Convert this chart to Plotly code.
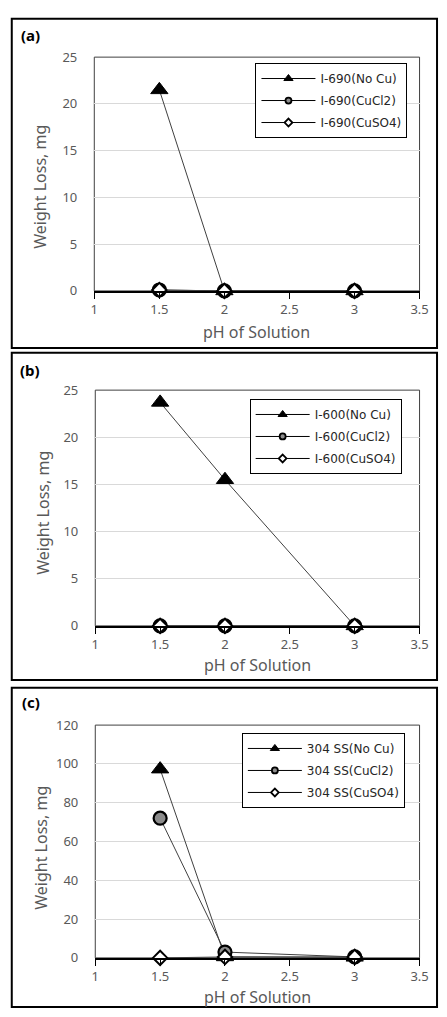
import plotly.graph_objects as go

# ---------------- data ----------------
ph = [1.5, 2, 3]

a_names = ["I-690(No Cu)", "I-690(CuCl2)", "I-690(CuSO4)"]
a_nocu = [21.5, 0.0, 0.0]
a_cucl2 = [0.1, 0.0, 0.0]
a_cuso4 = [0.1, 0.0, 0.0]

b_names = ["I-600(No Cu)", "I-600(CuCl2)", "I-600(CuSO4)"]
b_nocu = [23.7, 15.5, 0.0]
b_cucl2 = [0.0, 0.0, 0.0]
b_cuso4 = [0.0, 0.0, 0.0]

c_names = ["304 SS(No Cu)", "304 SS(CuCl2)", "304 SS(CuSO4)"]
c_nocu = [97.3, 0.5, 0.3]
c_cucl2 = [72.0, 3.0, 0.5]
c_cuso4 = [0.0, 0.5, 0.5]

panel_labels = ["(a)", "(b)", "(c)"]
x_ticks = [1, 1.5, 2, 2.5, 3, 3.5]
y_ranges = [[0, 25], [0, 25], [0, 120]]
y_dticks = [5, 5, 20]

# ---------------- layout geometry (pixels) ----------------
W, H = 447, 1017
plots = [  # x0, x1, top, bottom
    (93, 428, 49, 287),
    (94, 428, 388, 628),
    (94, 428, 729, 966),
]
boxes = [  # left, right, top, bottom
    (8, 446, 10, 345),
    (8, 446, 350, 683),
    (8, 446, 691, 1016),
]
legend_pos = [(259, 55), (253, 397), (245, 737)]
ytitle_pos = [(37, 181), (40, 513), (38, 854)]
xtitle_y = [329, 668, 1006]
label_pos = [(27, 26), (27, 368), (28, 705)]


def px(x):
    return x / W


def py(y):
    return 1 - y / H


LINE_COL = "#404040"
GRAY = "#595959"
FONT = "Noto Sans"
LEG_FONT = "DejaVu Sans"

styles = [
    dict(symbol="triangle-up", color="black", lc="black", size=15, lsize=8, lw=1),
    dict(symbol="circle", color="#8c8c8c", lc="black", size=13, lsize=6, lw=2.2),
    dict(symbol="diamond", color="white", lc="black", size=11, lsize=6, lw=2),
]

fig = go.Figure()
datasets = [
    (a_names, [a_nocu, a_cucl2, a_cuso4]),
    (b_names, [b_nocu, b_cucl2, b_cuso4]),
    (c_names, [c_nocu, c_cucl2, c_cuso4]),
]

layout_upd = {}
shapes = []
annotations = []

for i, (names, series) in enumerate(datasets):
    n = "" if i == 0 else str(i + 1)
    xa, ya = "x" + n, "y" + n
    leg = "legend" + n
    for j, (name, vals) in enumerate(zip(names, series)):
        s = styles[j]
        fig.add_trace(go.Scatter(
            x=ph, y=vals, xaxis=xa, yaxis=ya, mode="lines+markers",
            line=dict(color=LINE_COL, width=1),
            marker=dict(symbol=s["symbol"], size=s["size"], color=s["color"],
                        line=dict(color=s["lc"], width=s["lw"])),
            showlegend=False, cliponaxis=False, name=name,
        ))
    # legend-only traces (smaller legend markers)
    for j, name in enumerate(names):
        s = styles[j]
        fig.add_trace(go.Scatter(
            x=[None], y=[None], xaxis=xa, yaxis=ya, mode="lines+markers",
            line=dict(color="black", width=1),
            marker=dict(symbol=s["symbol"], size=s["lsize"], color=s["color"],
                        line=dict(color=s["lc"], width=min(s["lw"], 1.8))),
            name=name, legend=leg, legendgroup=f"g{i}{j}", showlegend=True,
        ))

    x0, x1, top, bot = plots[i]
    layout_upd["xaxis" + n] = dict(
        domain=[px(x0), px(x1)], anchor=ya, range=[1, 3.5], tickvals=x_ticks,
        ticktext=[str(t) for t in x_ticks], showgrid=False, zeroline=False,
        showline=True, linecolor="black", linewidth=1.5,
        ticks="outside", ticklen=6, tickcolor="black", tickwidth=1,
        tickfont=dict(family=FONT, size=13, color=GRAY),
    )
    layout_upd["yaxis" + n] = dict(
        domain=[py(bot), py(top)], anchor=xa, range=y_ranges[i], dtick=y_dticks[i],
        showgrid=True, gridcolor="#d9d9d9", gridwidth=1, zeroline=False,
        showline=False, ticks="", ticklabelstandoff=16,
        tickfont=dict(family=FONT, size=13, color=GRAY),
    )
    lx, ly = legend_pos[i]
    layout_upd[leg] = dict(
        x=px(lx), y=py(ly), xanchor="left", yanchor="top",
        bordercolor="black", borderwidth=1, bgcolor="white",
        font=dict(family=LEG_FONT, size=12, color="#262626"),
        traceorder="grouped", tracegroupgap=3, itemwidth=54,
    )
    # plot area border
    shapes.append(dict(type="rect", xref=xa + " domain", yref=ya + " domain",
                       x0=0, x1=1, y0=0, y1=1, line=dict(color=LINE_COL, width=1),
                       layer="below"))
    # panel box
    bl, br, bt, bb = boxes[i]
    shapes.append(dict(type="rect", xref="paper", yref="paper",
                       x0=px(bl), x1=px(br), y0=py(bb), y1=py(bt),
                       line=dict(color="black", width=2)))
    # titles
    tx, ty = ytitle_pos[i]
    annotations.append(dict(text="Weight Loss, mg", xref="paper", yref="paper",
                            x=px(tx), y=py(ty), textangle=-90, showarrow=False,
                            xanchor="center", yanchor="middle",
                            font=dict(family=FONT, size=16, color=GRAY)))
    annotations.append(dict(text="pH of Solution", xref="paper", yref="paper",
                            x=px((x0 + x1) / 2), y=py(xtitle_y[i]), showarrow=False,
                            xanchor="center", yanchor="middle",
                            font=dict(family=FONT, size=16, color=GRAY)))
    lbx, lby = label_pos[i]
    annotations.append(dict(text="<b>" + panel_labels[i] + "</b>", xref="paper",
                            yref="paper", x=px(lbx), y=py(lby), showarrow=False,
                            xanchor="center", yanchor="middle",
                            font=dict(family=FONT, size=15, color="black")))

fig.update_layout(
    width=W, height=H, margin=dict(l=0, r=0, t=0, b=0),
    paper_bgcolor="white", plot_bgcolor="white",
    shapes=shapes, annotations=annotations, **layout_upd,
)

fig.write_html(
    "out.html",
    config={"displayModeBar": False},
    post_script="document.body.style.margin='0';document.body.style.overflow='hidden';",
)
